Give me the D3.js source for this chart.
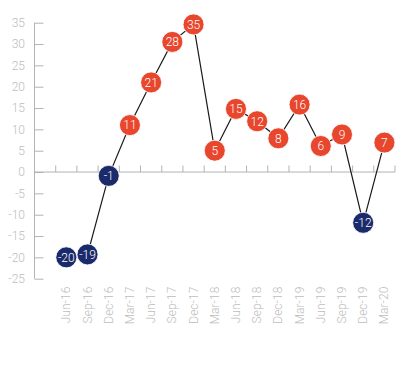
<!DOCTYPE html>
<html>
<head>
<meta charset="utf-8">
<script src="https://cdn.jsdelivr.net/npm/d3@7"></script>
<style>
  body { margin: 0; background: #fff; }
  svg text { font-family: Roboto, "Open Sans", sans-serif; font-weight: 300; }
</style>
</head>
<body>
<div id="chart"></div>
<script>
// quarters (first slot is left empty in the original)
const quarters = ["", "Jun-16", "Sep-16", "Dec-16", "Mar-17", "Jun-17", "Sep-17", "Dec-17",
  "Mar-18", "Jun-18", "Sep-18", "Dec-18", "Mar-19", "Jun-19", "Sep-19", "Dec-19", "Mar-20"];
// plotted positions
const values = [null, -20, -19.3, -0.9, 11, 21, 30.5, 34.6, 5, 14.8, 11.9, 7.9, 15.8, 6.1, 8.8, -11.9, 6.9];
// numbers printed in the bubbles
const labels = ["", "-20", "-19", "-1", "11", "21", "28", "35", "5", "15", "12", "8", "16", "6", "9", "-12", "7"];
const yTicks = [-25, -20, -15, -10, -5, 0, 5, 10, 15, 20, 25, 30, 35];

const width = 411, height = 371;
const margin = { left: 34.5, right: 16, top: 22.7, bottom: 92.3 };

const svg = d3.select('#chart')
  .append('svg')
  .attr('width', width)
  .attr('height', height);

const x = d3.scaleBand()
  .domain(d3.range(quarters.length))
  .range([margin.left, width - margin.right]);

const y = d3.scaleLinear()
  .domain([-25, 35])
  .range([height - margin.bottom, margin.top]);

const axisColor = '#b3b3b3';
const textColor = '#bdbdbd';

// y axis
const yAxis = svg.append('g')
  .attr('transform', `translate(${margin.left},0)`)
  .call(d3.axisRight(y).tickValues(yTicks).tickSize(9).tickFormat(d3.format('d')));
yAxis.select('.domain').attr('stroke', axisColor).attr('d', `M0,${y(-25)}V${y(35)}`);
yAxis.selectAll('.tick line').attr('stroke', axisColor);
yAxis.selectAll('.tick text')
  .attr('x', -9.5)
  .attr('text-anchor', 'end')
  .attr('fill', textColor)
  .style('font-size', '12px')
  .text(d => d < 0 ? '-' + Math.abs(d) : d);

// x axis along zero, ticks on band boundaries pointing up
const xAxis = svg.append('g').attr('transform', `translate(0,${y(0)})`);
xAxis.append('line')
  .attr('x1', x.range()[0]).attr('x2', x.range()[1])
  .attr('stroke', axisColor);
xAxis.selectAll('.xt')
  .data(d3.range(1, quarters.length + 1))
  .join('line')
  .attr('class', 'xt')
  .attr('x1', i => x.range()[0] + i * x.step())
  .attr('x2', i => x.range()[0] + i * x.step())
  .attr('y1', 0).attr('y2', -6.5)
  .attr('stroke', axisColor);

// rotated category labels
svg.append('g')
  .selectAll('text')
  .data(quarters.map((q, i) => [q, i]).filter(d => d[0]))
  .join('text')
  .attr('transform', d => `translate(${x(d[1]) + x.bandwidth() / 2 + 4},${y(-25) + 8}) rotate(-90)`)
  .attr('text-anchor', 'end')
  .attr('fill', textColor)
  .style('font-size', '12px')
  .text(d => d[0]);

// line
const pts = values.map((v, i) => ({ v, i, label: labels[i] })).filter(d => d.v !== null);
svg.append('path')
  .datum(pts)
  .attr('fill', 'none')
  .attr('stroke', '#1a1a1a')
  .attr('stroke-width', 1.2)
  .attr('d', d3.line().x(d => x(d.i) + x.bandwidth() / 2).y(d => y(d.v)));

// bubbles
const dots = svg.append('g')
  .selectAll('g')
  .data(pts)
  .join('g')
  .attr('transform', d => `translate(${x(d.i) + x.bandwidth() / 2},${y(d.v)})`);
dots.append('circle')
  .attr('r', 10.5)
  .attr('fill', d => d.v < 0 ? '#1b2a6b' : '#e8462d')
  .attr('stroke', '#fff')
  .attr('stroke-width', 0.8);
dots.append('text')
  .attr('text-anchor', 'middle')
  .attr('dy', '0.36em')
  .attr('fill', '#fff')
  .style('font-size', '12px')
  .text(d => d.label);
</script>
</body>
</html>
